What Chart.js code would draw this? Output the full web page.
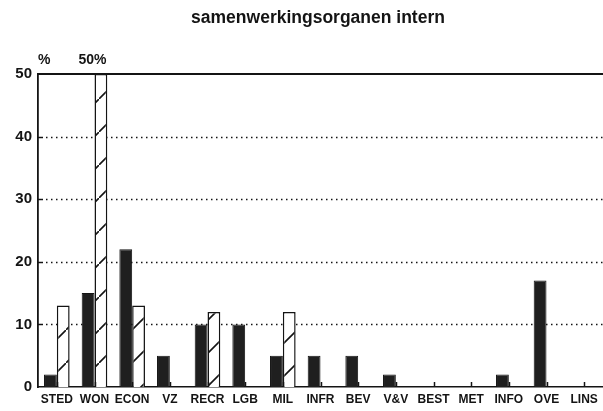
<!DOCTYPE html>
<html>
<head>
<meta charset="utf-8">
<script src="https://cdn.jsdelivr.net/npm/chart.js@4.4.1/dist/chart.umd.min.js"></script>
<style>
  html, body { margin: 0; padding: 0; background: #fff; }
  #wrap { width: 603px; height: 411px; position: relative; }
</style>
</head>
<body>
<div id="wrap"><canvas id="myChart"></canvas></div>
<script>
// data
const categories = ['STED', 'WON', 'ECON', 'VZ', 'RECR', 'LGB', 'MIL', 'INFR', 'BEV', 'V&V', 'BEST', 'MET', 'INFO', 'OVE', 'LINS'];
const darkValues = [2, 15, 22, 5, 10, 10, 5, 5, 5, 2, 0, 0, 2, 17, 0];
const hatchedValues = [13, 50, 13, 0, 12, 0, 12, 0, 0, 0, 0, 0, 0, 0, 0];
const yTickValues = [0, 10, 20, 30, 40, 50];
const titleText = 'samenwerkingsorganen intern';
const unitLabel = '%';
const cappedLabel = '50%';

const FONT = "'Liberation Sans', Arial, sans-serif";
const INK = '#141414';

function makeHatch() {
  const size = 33;
  const c = document.createElement('canvas');
  c.width = size;
  c.height = size;
  const g = c.getContext('2d');
  g.fillStyle = '#fff';
  g.fillRect(0, 0, size, size);
  g.strokeStyle = INK;
  g.lineWidth = 1.6;
  g.beginPath();
  g.moveTo(-2, size + 2);
  g.lineTo(size + 2, -2);
  g.stroke();
  return g.createPattern(c, 'repeat');
}

// dotted grid lines and short inward ticks
const gridPlugin = {
  id: 'gridPlugin',
  beforeDatasetsDraw(chart) {
    const ctx = chart.ctx;
    const area = chart.chartArea;
    const y = chart.scales.y;
    ctx.save();
    ctx.strokeStyle = INK;
    ctx.lineWidth = 1.5;
    yTickValues.forEach(v => {
      if (v === 0 || v === 50) return;
      const py = Math.round(y.getPixelForValue(v)) + 0.5;
      ctx.setLineDash([]);
      ctx.beginPath();
      ctx.moveTo(area.left, py);
      ctx.lineTo(area.left + 5, py);
      ctx.stroke();
      ctx.setLineDash([1.5, 3.5]);
      ctx.beginPath();
      ctx.moveTo(area.left + 8, py);
      ctx.lineTo(area.right, py);
      ctx.stroke();
    });
    ctx.restore();
  },
  afterDraw(chart) {
    const ctx = chart.ctx;
    const area = chart.chartArea;
    const x = chart.scales.x;
    ctx.save();
    ctx.strokeStyle = INK;
    // category ticks pointing into the plot
    ctx.lineWidth = 1.5;
    categories.forEach((c, i) => {
      const px = Math.round(x.getPixelForTick(i)) + 0.5;
      ctx.beginPath();
      ctx.moveTo(px, area.bottom);
      ctx.lineTo(px, area.bottom - 5);
      ctx.stroke();
    });
    // top frame line
    ctx.lineWidth = 1.8;
    ctx.beginPath();
    ctx.moveTo(area.left, area.top);
    ctx.lineTo(area.right, area.top);
    ctx.stroke();
    // title and small labels
    ctx.fillStyle = INK;
    ctx.textBaseline = 'middle';
    ctx.textAlign = 'center';
    ctx.font = 'bold 17.5px ' + FONT;
    ctx.fillText(titleText, 318, 18);
    ctx.font = 'bold 14px ' + FONT;
    ctx.textAlign = 'left';
    ctx.fillText(unitLabel, area.left, 60);
    ctx.textAlign = 'center';
    ctx.fillText(cappedLabel, x.getPixelForValue(1) - 2, 60);
    ctx.restore();
  }
};

const ctx = document.getElementById('myChart').getContext('2d');
const myChart = new Chart(ctx, {
  type: 'bar',
  data: {
    labels: categories,
    datasets: [
      {
        label: 'dark',
        data: darkValues,
        backgroundColor: '#1f1f1f',
        borderColor: INK,
        borderWidth: 1
      },
      {
        label: 'hatched',
        data: hatchedValues,
        backgroundColor: makeHatch(),
        borderColor: INK,
        borderWidth: 1.5
      }
    ]
  },
  options: {
    responsive: true,
    maintainAspectRatio: false,
    animation: false,
    devicePixelRatio: 1,
    layout: { padding: { top: 74, right: 0, left: 0, bottom: 0 } },
    datasets: {
      bar: { categoryPercentage: 0.68, barPercentage: 1.0 }
    },
    plugins: {
      legend: { display: false },
      title: { display: false },
      tooltip: { enabled: false }
    },
    scales: {
      x: {
        grid: { display: false, drawTicks: false },
        border: { display: true, color: INK, width: 1.5 },
        ticks: {
          color: INK,
          font: { family: FONT, size: 12, weight: 'bold' },
          padding: 5,
          maxRotation: 0,
          autoSkip: false
        },
        afterFit(scale) { scale.height = 24; }
      },
      y: {
        min: 0,
        max: 50,
        grid: { display: false, drawTicks: false },
        border: { display: true, color: INK, width: 1.8 },
        ticks: {
          stepSize: 10,
          color: INK,
          font: { family: FONT, size: 15, weight: 'bold' },
          padding: 6
        },
        afterFit(scale) { scale.width = 38; }
      }
    }
  },
  plugins: [gridPlugin]
});
</script>
</body>
</html>
